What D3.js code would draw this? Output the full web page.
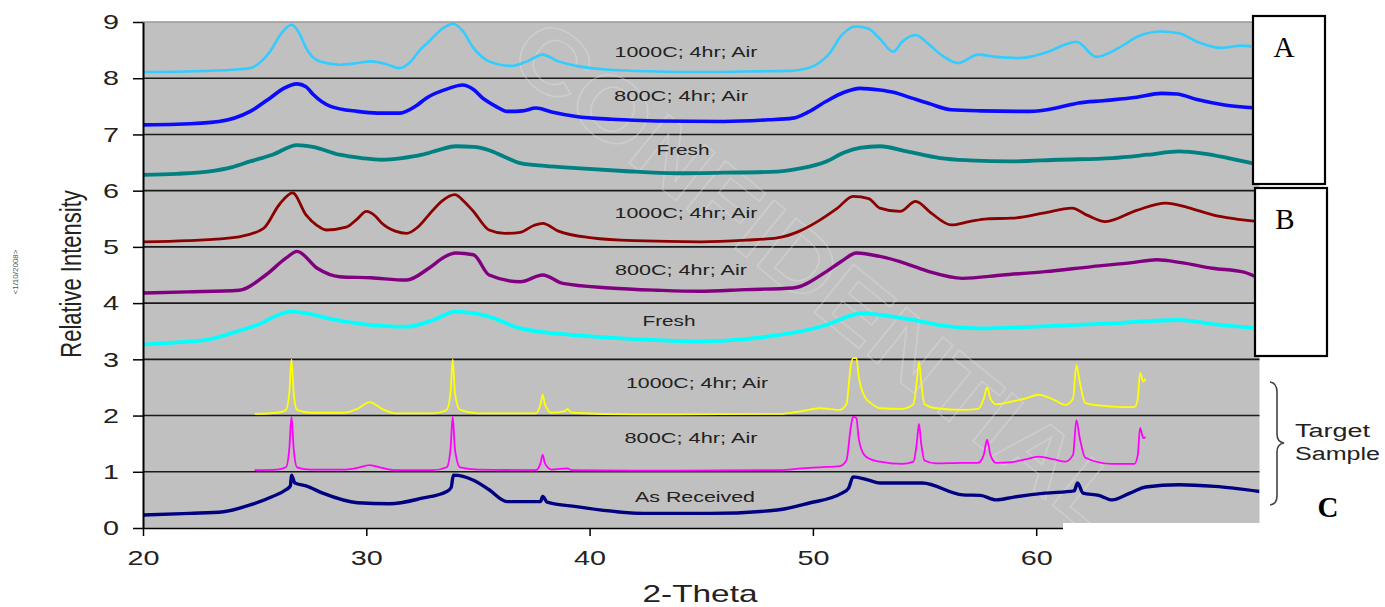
<!DOCTYPE html>
<html>
<head>
<meta charset="utf-8">
<script src="https://cdn.jsdelivr.net/npm/d3@7"></script>
<style>
  body { margin: 0; background: #fff; }
  svg { display: block; font-family: "Liberation Sans", Arial, sans-serif; }
</style>
</head>
<body>
<div id="chart"></div>
<script>
// ---- data: [2-theta, relative intensity] ----
const a1000 = [[20,8.11],[22,8.12],[24,8.15],[24.8,8.18],[25.3,8.3],[25.7,8.48],[26.2,8.8],[26.65,8.95],[27.0,8.8],[27.3,8.54],[27.9,8.3],[28.8,8.24],[29.6,8.27],[30.2,8.3],[30.9,8.25],[31.5,8.18],[32.0,8.3],[32.4,8.5],[32.8,8.65],[33.4,8.88],[33.9,8.97],[34.3,8.85],[34.8,8.54],[35.5,8.3],[36.5,8.22],[37.2,8.3],[37.9,8.42],[38.6,8.3],[39.4,8.22],[40.9,8.15],[43,8.12],[45,8.11],[47,8.12],[49,8.13],[49.8,8.18],[50.3,8.28],[50.7,8.42],[51.3,8.77],[51.9,8.92],[52.5,8.88],[53.0,8.7],[53.6,8.47],[54.0,8.65],[54.6,8.77],[55.2,8.6],[55.8,8.4],[56.5,8.27],[57.4,8.42],[58.2,8.38],[59.2,8.36],[60.6,8.48],[61.3,8.6],[61.8,8.65],[62.7,8.38],[63.7,8.54],[64.6,8.75],[65.6,8.83],[66.4,8.8],[67.2,8.65],[68.3,8.54],[69.2,8.58],[70,8.54]];
const a800 = [[20,7.17],[21.5,7.18],[23.4,7.23],[24.8,7.41],[25.7,7.65],[26.3,7.82],[26.9,7.9],[27.3,7.85],[27.6,7.72],[28.4,7.5],[29.6,7.41],[30.5,7.38],[31.5,7.38],[32.2,7.5],[32.7,7.65],[33.7,7.82],[34.3,7.88],[34.8,7.8],[35.2,7.65],[35.8,7.5],[36.3,7.41],[37.0,7.42],[37.6,7.47],[38.3,7.4],[39.4,7.32],[41,7.27],[43,7.24],[46,7.23],[48,7.26],[49.1,7.29],[49.8,7.4],[50.6,7.59],[51.4,7.75],[52.1,7.82],[53,7.79],[53.6,7.75],[54.4,7.65],[55.2,7.55],[56.2,7.44],[57.5,7.42],[59.7,7.41],[61,7.48],[61.9,7.56],[63,7.6],[64.5,7.66],[65.6,7.73],[66.3,7.72],[67.2,7.62],[68.5,7.52],[70,7.47]];
const aFresh = [[20,6.28],[21.5,6.3],[22.9,6.34],[24,6.42],[24.8,6.52],[25.8,6.64],[26.9,6.81],[27.6,6.78],[28.8,6.64],[29.8,6.58],[30.7,6.55],[31.6,6.58],[32.5,6.64],[33.3,6.73],[34,6.79],[34.8,6.78],[35.5,6.72],[36.2,6.6],[36.9,6.49],[38,6.44],[39.4,6.4],[41.5,6.35],[43.9,6.31],[46,6.32],[48.4,6.34],[49.5,6.4],[50.6,6.52],[51.4,6.68],[52.1,6.76],[53,6.79],[54.2,6.7],[55.7,6.58],[57,6.54],[58.9,6.52],[61,6.55],[63.4,6.58],[65,6.64],[66.4,6.7],[67.5,6.66],[68.6,6.58],[70,6.46]];
const b1000 = [[20,5.09],[22,5.11],[24.3,5.18],[25.4,5.33],[26.1,5.75],[26.7,5.96],[27.3,5.57],[27.8,5.38],[28.2,5.3],[29.1,5.35],[29.6,5.5],[30.0,5.63],[30.4,5.55],[30.7,5.42],[31.3,5.28],[31.8,5.24],[32.3,5.35],[32.8,5.57],[33.4,5.82],[33.96,5.93],[34.4,5.8],[34.8,5.63],[35.5,5.3],[36.2,5.24],[36.9,5.26],[37.5,5.38],[37.9,5.42],[38.6,5.28],[40.1,5.16],[42,5.11],[45,5.09],[47,5.12],[48.4,5.16],[49.4,5.28],[50.2,5.45],[51.1,5.69],[51.8,5.9],[52.5,5.86],[53,5.69],[53.9,5.63],[54.6,5.81],[55.3,5.6],[56.2,5.39],[57,5.45],[57.8,5.5],[58.9,5.51],[60.3,5.6],[61.6,5.69],[62.3,5.56],[63.1,5.45],[64.5,5.65],[65.8,5.78],[66.8,5.7],[67.9,5.57],[70,5.45]];
const b800 = [[20,4.18],[22,4.2],[24.3,4.23],[25.5,4.5],[26.4,4.8],[26.9,4.92],[27.8,4.62],[28.8,4.47],[30.2,4.45],[31.8,4.41],[32.8,4.62],[33.5,4.82],[34,4.89],[34.8,4.86],[35.5,4.5],[36.9,4.38],[37.9,4.5],[38.8,4.35],[40.9,4.27],[43,4.23],[44.9,4.21],[47,4.24],[49.1,4.27],[50.6,4.56],[51.3,4.75],[51.95,4.89],[53,4.83],[54.2,4.7],[55.2,4.56],[56.7,4.44],[58.5,4.5],[60.4,4.56],[62.5,4.65],[64.3,4.72],[65.4,4.77],[66.5,4.72],[67.9,4.62],[69.3,4.55],[70,4.44]];
const bFresh = [[20,3.26],[21.5,3.3],[22.9,3.35],[24,3.47],[25.1,3.61],[26.6,3.85],[27.3,3.82],[28.4,3.72],[29.6,3.64],[31.8,3.58],[33,3.7],[34,3.85],[34.8,3.82],[35.5,3.76],[36.9,3.55],[39.4,3.43],[42,3.36],[44.9,3.32],[47,3.36],[48.4,3.43],[49.5,3.5],[50.6,3.61],[52.2,3.82],[53,3.79],[54.5,3.7],[55.8,3.6],[57.5,3.55],[60,3.58],[63.4,3.64],[66.4,3.7],[68,3.62],[70,3.55]];
const c1000 = [[25,2.03],[26,2.05],[26.4,2.1],[26.55,2.4],[26.65,3.0],[26.75,2.4],[26.9,2.1],[27.5,2.05],[29,2.05],[29.6,2.12],[30.15,2.24],[30.7,2.12],[31.3,2.04],[33,2.04],[33.6,2.1],[33.77,2.4],[33.87,3.0],[33.97,2.4],[34.2,2.1],[35,2.04],[37.6,2.04],[37.8,2.2],[37.9,2.37],[38.0,2.2],[38.3,2.05],[38.9,2.08],[39.0,2.12],[39.2,2.05],[42,2.02],[48.5,2.03],[49.5,2.08],[50.3,2.13],[51.2,2.1],[51.5,2.2],[51.7,2.9],[51.8,3.02],[51.95,3.02],[52.05,2.7],[52.3,2.35],[52.6,2.22],[53,2.13],[54,2.12],[54.5,2.2],[54.65,2.6],[54.75,2.96],[54.85,2.6],[55.0,2.2],[55.5,2.13],[56.7,2.1],[57.4,2.12],[57.65,2.3],[57.8,2.5],[57.95,2.3],[58.2,2.2],[58.9,2.25],[59.5,2.3],[60.1,2.37],[60.8,2.28],[61.3,2.19],[61.65,2.3],[61.8,2.9],[61.95,2.6],[62.2,2.22],[63.4,2.16],[64.4,2.15],[64.55,2.3],[64.65,2.76],[64.8,2.6],[64.9,2.66]];
const c800 = [[25,1.03],[26,1.04],[26.4,1.08],[26.55,1.4],[26.65,1.98],[26.75,1.4],[26.9,1.08],[27.5,1.04],[29,1.04],[29.6,1.07],[30.15,1.12],[30.7,1.07],[31.3,1.03],[33,1.03],[33.6,1.08],[33.77,1.4],[33.87,1.98],[33.97,1.4],[34.2,1.08],[35,1.04],[37.6,1.03],[37.8,1.15],[37.9,1.3],[38.0,1.15],[38.3,1.04],[39.0,1.06],[39.2,1.03],[42,1.02],[48.5,1.03],[49.5,1.06],[50.3,1.08],[51.2,1.1],[51.5,1.2],[51.7,1.8],[51.8,1.98],[51.95,1.95],[52.05,1.6],[52.3,1.3],[52.6,1.22],[53,1.18],[54,1.14],[54.5,1.18],[54.65,1.5],[54.75,1.85],[54.85,1.5],[55.0,1.2],[55.5,1.15],[56.7,1.16],[57.4,1.16],[57.65,1.3],[57.8,1.57],[57.95,1.3],[58.2,1.16],[58.9,1.17],[59.5,1.22],[60.1,1.27],[60.8,1.22],[61.3,1.18],[61.65,1.3],[61.8,1.92],[61.95,1.6],[62.2,1.25],[63.4,1.14],[64.4,1.14],[64.55,1.3],[64.65,1.78],[64.8,1.6],[64.9,1.62]];
const cReceived = [[20,0.23],[22.1,0.26],[23.6,0.29],[24.8,0.41],[25.8,0.56],[26.4,0.68],[26.6,0.75],[26.65,0.94],[26.8,0.8],[27.3,0.75],[28.05,0.62],[29.6,0.45],[31.05,0.43],[32.5,0.53],[33.6,0.65],[33.8,0.72],[33.9,0.94],[34.8,0.85],[35.5,0.68],[36.3,0.47],[37.8,0.47],[37.9,0.56],[38.1,0.46],[39.4,0.38],[42.4,0.26],[45.4,0.26],[48.4,0.32],[49.8,0.44],[51.3,0.62],[51.6,0.71],[51.8,0.91],[52.5,0.85],[53,0.8],[54.9,0.8],[56.7,0.59],[57.5,0.58],[58.2,0.5],[59,0.55],[60.4,0.62],[61.7,0.66],[61.85,0.8],[62.1,0.62],[62.8,0.58],[63.4,0.5],[64.2,0.62],[64.9,0.73],[66.4,0.77],[68,0.74],[70,0.65]];

const seriesNames = ['1000C; 4hr; Air', '800C; 4hr; Air', 'Fresh',
                     '1000C; 4hr; Air', '800C; 4hr; Air', 'Fresh',
                     '1000C; 4hr; Air', '800C; 4hr; Air', 'As Received'];
const seriesValues = [a1000, a800, aFresh, b1000, b800, bFresh, c1000, c800, cReceived];
const xTicks = [20, 30, 40, 50, 60];
const yTicks = [0, 1, 2, 3, 4, 5, 6, 7, 8, 9];
const groupLabels = ['A', 'B', 'C'];

// ---- styling / layout ----
const colors = ['#33ccff', '#0a0aff', '#008080', '#8b0000', '#800080', '#00ffff', '#ffff00', '#ff00ff', '#000080'];
const strokeW = [2.6, 3.6, 3.8, 2.8, 3.4, 3.8, 1.8, 1.8, 3.4];
// label centre x, baseline y (px) and stretched width
const labelPos = [[686, 57, 143], [681, 101, 134], [683, 155, 53],
                  [686, 218, 143], [681, 275, 132], [669, 326, 53],
                  [697, 388, 142], [691, 443, 133], [695, 502, 120]];

const W = 1385, H = 607;
const svg = d3.select('#chart').append('svg').attr('width', W).attr('height', H);

const x = d3.scaleLinear().domain([20, 70]).range([143, 1259.5]);
const y = d3.scaleLinear().domain([0, 9]).range([528, 22]);

// plot background
svg.append('rect')
  .attr('x', x(20)).attr('y', y(9))
  .attr('width', x(70) - x(20)).attr('height', y(0) - y(9))
  .attr('fill', '#c0c0c0');
svg.append('line')
  .attr('x1', x(20)).attr('x2', x(70)).attr('y1', y(9)).attr('y2', y(9))
  .attr('stroke', '#9a9a9a').attr('stroke-width', 1.5);

// horizontal gridlines
svg.append('g').selectAll('line')
  .data(yTicks.filter(d => d > 0 && d < 9))
  .enter().append('line')
  .attr('x1', x(20)).attr('x2', x(70))
  .attr('y1', d => y(d)).attr('y2', d => y(d))
  .attr('stroke', '#1a1a1a').attr('stroke-width', 1.6);

// faint watermark
svg.append('text')
  .attr('transform', 'translate(505,62) rotate(39)')
  .attr('font-size', 90).attr('font-weight', 'bold')
  .attr('textLength', 760).attr('lengthAdjust', 'spacingAndGlyphs')
  .attr('fill', 'none').attr('stroke', '#e6e6e6').attr('stroke-width', 1.4)
  .attr('opacity', 0.35)
  .text('CONFIDENTIAL');

svg.append('clipPath').attr('id', 'plotclip')
  .append('rect').attr('x', x(20)).attr('y', y(9) - 4)
  .attr('width', x(70) - x(20)).attr('height', y(0) - y(9) + 4);

const line = d3.line()
  .x(d => x(d[0]))
  .y(d => y(d[1]))
  .curve(d3.curveMonotoneX);

svg.append('g').attr('clip-path', 'url(#plotclip)')
  .selectAll('path')
  .data(seriesValues)
  .enter().append('path')
  .attr('d', line)
  .attr('fill', 'none')
  .attr('stroke', (d, i) => colors[i])
  .attr('stroke-width', (d, i) => strokeW[i])
  .attr('stroke-linejoin', 'round');

// series labels
svg.append('g').selectAll('text')
  .data(seriesNames)
  .enter().append('text')
  .attr('x', (d, i) => labelPos[i][0])
  .attr('y', (d, i) => labelPos[i][1])
  .attr('text-anchor', 'middle')
  .attr('font-size', 15)
  .attr('fill', '#222')
  .attr('textLength', (d, i) => labelPos[i][2])
  .attr('lengthAdjust', 'spacingAndGlyphs')
  .text(d => d);

// axes
const yAxis = svg.append('g')
  .attr('transform', `translate(${x(20)},0)`)
  .call(d3.axisLeft(y).tickValues(yTicks).tickSize(10).tickPadding(14).tickSizeOuter(0));
yAxis.select('.domain').attr('stroke', '#000').attr('stroke-width', 2);
yAxis.selectAll('.tick line').attr('stroke', '#000').attr('stroke-width', 1.5);
yAxis.selectAll('.tick text')
  .attr('font-size', 21).attr('fill', '#222')
  .attr('font-family', '"Liberation Sans", Arial, sans-serif')
  .attr('textLength', 16).attr('lengthAdjust', 'spacingAndGlyphs');

const xAxis = svg.append('g')
  .attr('transform', `translate(0,${y(0)})`)
  .call(d3.axisBottom(x).tickValues(xTicks).tickSize(8).tickPadding(14).tickSizeOuter(0));
xAxis.select('.domain').attr('stroke', '#000').attr('stroke-width', 1.6);
xAxis.selectAll('.tick line').attr('stroke', '#000').attr('stroke-width', 1.5);
xAxis.selectAll('.tick text')
  .attr('font-size', 21).attr('fill', '#222')
  .attr('font-family', '"Liberation Sans", Arial, sans-serif')
  .attr('textLength', 32).attr('lengthAdjust', 'spacingAndGlyphs');

// white patch pasted over the lower right corner
svg.append('rect')
  .attr('x', 1063).attr('y', 523).attr('width', W - 1063).attr('height', H - 523)
  .attr('fill', '#fff');

// axis titles
svg.append('text')
  .attr('x', 700).attr('y', 602)
  .attr('text-anchor', 'middle').attr('font-size', 24).attr('fill', '#222')
  .attr('textLength', 115).attr('lengthAdjust', 'spacingAndGlyphs')
  .text('2-Theta');

svg.append('text')
  .attr('transform', 'translate(81,274) scale(1.36,1) rotate(-90)')
  .attr('text-anchor', 'middle').attr('font-size', 22).attr('fill', '#222')
  .text('Relative Intensity');

svg.append('text')
  .attr('transform', 'translate(18,272) rotate(-90)')
  .attr('text-anchor', 'middle').attr('font-size', 8).attr('fill', '#555')
  .text('<1/10/2008>');

// group boxes A and B
const boxes = [[1253, 16, 72, 168], [1255, 188, 72, 168]];
svg.append('g').selectAll('rect')
  .data(boxes)
  .enter().append('rect')
  .attr('x', d => d[0]).attr('y', d => d[1])
  .attr('width', d => d[2]).attr('height', d => d[3])
  .attr('fill', '#fff').attr('stroke', '#000').attr('stroke-width', 2.2);

const letterPos = [[1284, 57, 'normal'], [1285, 229, 'normal'], [1328, 517, 'bold']];
svg.append('g').selectAll('text')
  .data(groupLabels)
  .enter().append('text')
  .attr('x', (d, i) => letterPos[i][0])
  .attr('y', (d, i) => letterPos[i][1])
  .attr('text-anchor', 'middle')
  .attr('font-family', '"Liberation Serif", "Times New Roman", serif')
  .attr('font-size', 29)
  .attr('font-weight', (d, i) => letterPos[i][2])
  .attr('fill', '#000')
  .text(d => d);

// brace for target samples
svg.append('path')
  .attr('d', 'M1270,382 Q1277,383 1277,392 L1277,434 Q1277,442 1284,443 Q1277,444 1277,452 L1277,496 Q1277,504 1270,505')
  .attr('fill', 'none').attr('stroke', '#444').attr('stroke-width', 1.6);

svg.append('text')
  .attr('x', 1295).attr('y', 437).attr('font-size', 18).attr('fill', '#222')
  .attr('textLength', 75).attr('lengthAdjust', 'spacingAndGlyphs')
  .text('Target');
svg.append('text')
  .attr('x', 1295).attr('y', 460).attr('font-size', 18).attr('fill', '#222')
  .attr('textLength', 85).attr('lengthAdjust', 'spacingAndGlyphs')
  .text('Sample');
</script>
</body>
</html>
